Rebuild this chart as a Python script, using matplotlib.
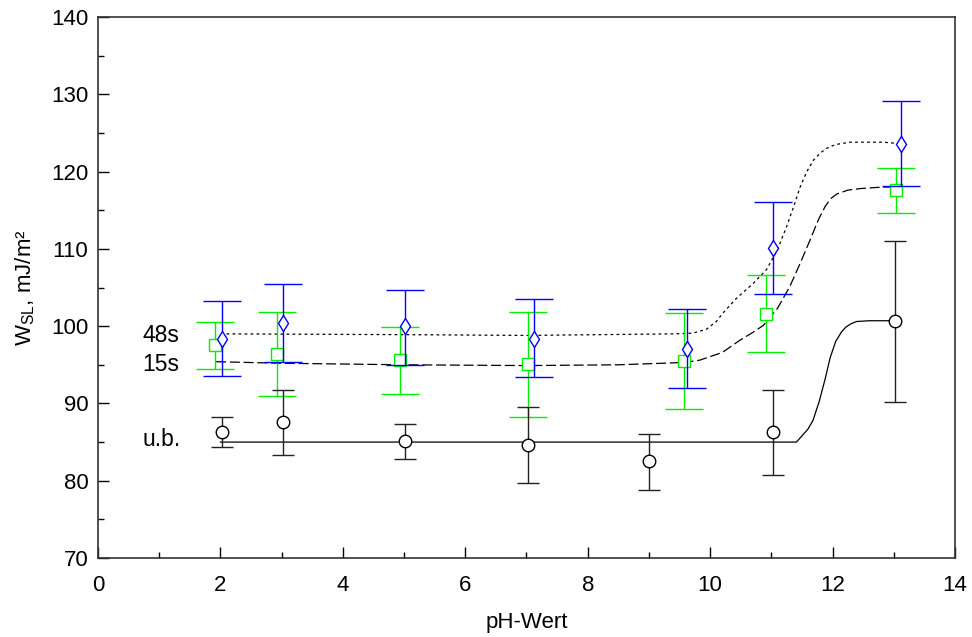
import numpy as np
import matplotlib as mpl
mpl.use('Agg')
import matplotlib.pyplot as plt
from matplotlib.ticker import MultipleLocator

plt.rcParams['font.family'] = ['Liberation Sans', 'DejaVu Sans']

# measured points (pH, W_SL, error bar low/high)
ub_x    = [2.03, 3.03, 5.02, 7.03, 9.0, 11.02, 13.02]
ub_y    = [86.3, 87.6, 85.1, 84.6, 82.5, 86.3, 100.7]
ub_lo   = [84.4, 83.3, 82.8, 79.7, 78.8, 80.8, 90.2]
ub_hi   = [88.2, 91.7, 87.3, 89.5, 86.1, 91.8, 111.0]

s15_x   = [1.91, 2.93, 4.93, 7.02, 9.57, 10.92, 13.03]
s15_y   = [97.5, 96.4, 95.6, 95.1, 95.5, 101.6, 117.6]
s15_lo  = [94.4, 90.9, 91.2, 88.3, 89.3, 96.6, 114.7]
s15_hi  = [100.5, 101.8, 99.9, 101.8, 101.7, 106.6, 120.5]

s48_x   = [2.03, 3.03, 5.02, 7.13, 9.63, 11.02, 13.12]
s48_y   = [98.4, 100.4, 100.0, 98.4, 97.0, 110.1, 123.6]
s48_lo  = [93.6, 95.3, 95.0, 93.4, 92.0, 104.2, 118.1]
s48_hi  = [103.3, 105.5, 104.7, 103.5, 102.2, 116.0, 129.1]

# fitted curves
fit_ub_x  = [2.0, 11.41, 11.5, 11.6, 11.68, 11.78, 11.88, 11.96, 12.05, 12.15, 12.22,
             12.3, 12.39, 12.6, 13.02]
fit_ub_y  = [85.0, 85.0, 85.8, 86.7, 87.8, 90.2, 93.2, 95.9, 98.0, 99.3, 99.9,
             100.3, 100.6, 100.7, 100.7]

fit_15_x  = [1.93, 3.0, 5.0, 7.0, 8.5, 9.57, 9.83, 10.2, 10.49, 10.7, 10.87, 11.1,
             11.3, 11.48, 11.63, 11.77, 11.88, 11.97, 12.07, 12.25, 12.45, 12.82, 13.03]
fit_15_y  = [95.4, 95.2, 95.0, 94.9, 95.0, 95.3, 95.6, 96.6, 98.2, 99.2, 100.1, 102.3,
             105.1, 108.3, 111.1, 113.8, 115.5, 116.5, 117.1, 117.6, 117.8, 118.0, 118.0]

fit_48_x  = [2.1, 5.0, 7.0, 9.4, 9.72, 9.94, 10.1, 10.21, 10.43, 10.7, 10.92, 11.1,
             11.25, 11.37, 11.47, 11.58, 11.69, 11.8, 11.9, 12.05, 12.28, 12.83, 13.12]
fit_48_y  = [99.0, 98.9, 98.8, 99.0, 99.1, 99.6, 100.6, 101.7, 103.6, 105.5, 107.3, 109.9,
             112.9, 115.6, 118.0, 120.0, 121.5, 122.4, 123.0, 123.5, 123.8, 123.8, 123.6]

labels = [('48s', 98.8), ('15s', 95.0), ('u.b.', 85.3)]

fig = plt.figure(figsize=(9.72, 6.37), dpi=100)
ax = fig.add_axes([0.1008, 0.124, 0.8817, 0.8493])

def err(y, lo, hi):
    y = np.array(y); return [y - np.array(lo), np.array(hi) - y]

ax.plot(fit_48_x, fit_48_y, color='black', lw=0.9, dashes=(2.2, 2.6), zorder=2)
ax.plot(fit_15_x, fit_15_y, color='black', lw=0.9, dashes=(8, 3), zorder=2)
ax.plot(fit_ub_x, fit_ub_y, color='black', lw=0.9, zorder=2)

ax.errorbar(s15_x, s15_y, yerr=err(s15_y, s15_lo, s15_hi), fmt='s', color='#00ee00',
            mfc='white', mec='#00ee00', ms=8, mew=1.0, elinewidth=1.0, capsize=13.5,
            capthick=1.2, zorder=3)
ax.errorbar(s48_x, s48_y, yerr=err(s48_y, s48_lo, s48_hi), fmt='d', color='#0000ff',
            mfc='white', mec='#0000ff', ms=8, mew=1.0, elinewidth=1.0, capsize=13.5,
            capthick=1.2, zorder=4)
ax.errorbar(ub_x, ub_y, yerr=err(ub_y, ub_lo, ub_hi), fmt='o', color='#222222',
            mfc='white', mec='black', ms=9, mew=1.0, elinewidth=1.0, capsize=8,
            capthick=1.2, zorder=5)

for txt, yv in labels:
    ax.text(0.73, yv, txt, fontsize=16.5, ha='left', va='center')

ax.set_xlim(0, 14)
ax.set_ylim(70, 140)
ax.xaxis.set_major_locator(MultipleLocator(2))
ax.xaxis.set_minor_locator(MultipleLocator(1))
ax.yaxis.set_major_locator(MultipleLocator(10))
ax.yaxis.set_minor_locator(MultipleLocator(5))
ax.tick_params(which='both', direction='in', labelsize=16, top=False, right=False, width=1)
ax.tick_params(which='major', length=8)
ax.tick_params(which='minor', length=4)
ax.tick_params(axis='x', pad=12)
ax.tick_params(axis='y', pad=7)
for s in ax.spines.values():
    s.set_linewidth(1.2)
    s.set_color('#333333')

ax.set_xlabel('pH-Wert', fontsize=16, labelpad=12)
ax.set_ylabel('W$_{\\mathregular{SL}}$, mJ/m²', fontsize=16, labelpad=10)

fig.savefig('out.png', dpi=100)
